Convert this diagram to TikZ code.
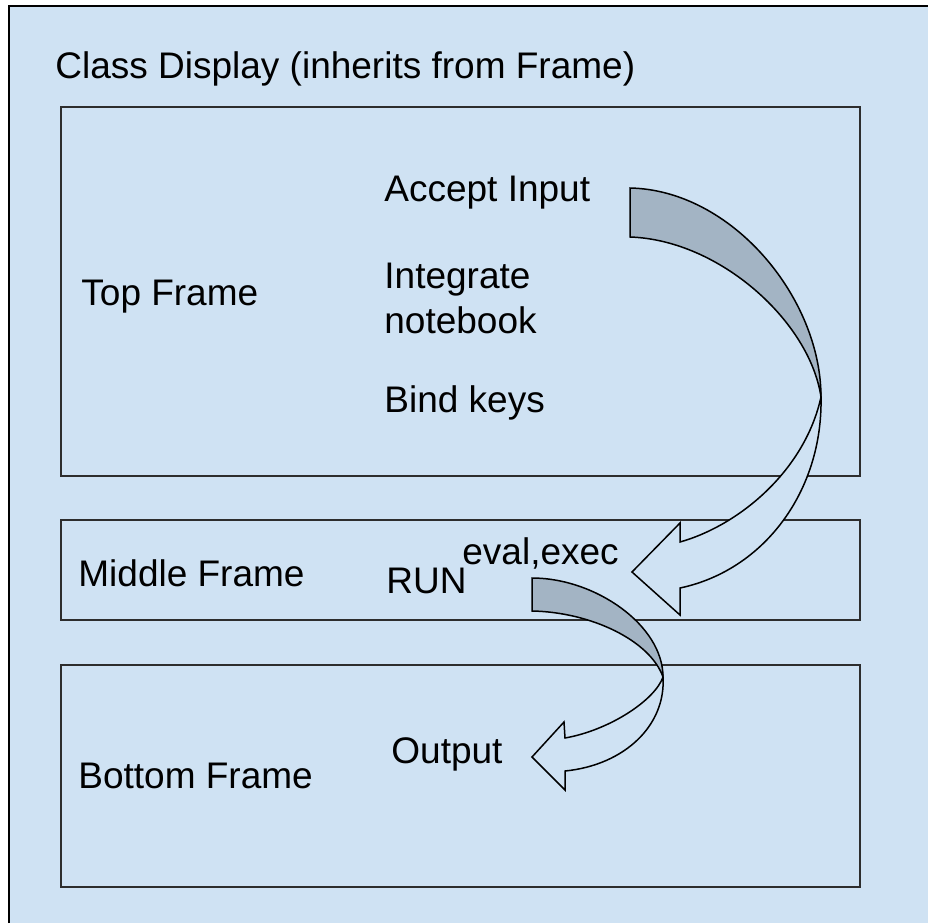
\documentclass[tikz,border=0pt]{standalone}
\usepackage{fontspec}
\setmainfont{Liberation Sans}
\usetikzlibrary{math}
\definecolor{panelblue}{RGB}{207,226,243}
\definecolor{twistgray}{RGB}{163,180,196}
\definecolor{frameline}{RGB}{45,45,45}

\begin{document}
\begin{tikzpicture}[x=0.5pt,y=-0.5pt,
  lbl/.style={anchor=base west,inner sep=0pt,font=\fontsize{18.5}{22}\selectfont},
  framebox/.style={draw=frameline,line width=1pt,fill=panelblue},
  twist/.style={draw=black,line width=0.75pt,line join=miter}]
\tikzmath{
\xl=61; \xr=860;
}
\useasboundingbox (0,0) rectangle (928,923);
\fill[white] (0,0) rectangle (928,923);
\fill[panelblue] (9,6) rectangle (928,923);
\draw[line width=1.2pt] (9,923) -- (9,6) -- (928,6);

% top, middle and bottom frames
\foreach \ya/\yb in {107/476, 520/620, 665/887}{
\draw[framebox] (\xl,\ya) rectangle (\xr,\yb);
}

\node[lbl] (title) at (55,78) {Class Display (inherits from Frame)};

\node[lbl] (topname) at (81,305) {Top Frame};
\node[lbl] (accept) at (384,201) {Accept Input};
\node[lbl] (integrate) at (384,288) {Integrate};
\node[lbl] (notebook) at (384,333) {notebook};
\node[lbl] (bind) at (384,412) {Bind keys};

\node[lbl] (midname) at (78,586) {Middle Frame};
\node[lbl] (run) at (386,593) {RUN};
\node[lbl] (evalexec) at (462,564) {eval,exec};

\node[lbl] (botname) at (78,788) {Bottom Frame};
\node[lbl] (output) at (391,763) {Output};

% twisted arrow from the top frame into the middle one
\coordinate (pinchA) at (821,397);
\filldraw[twist,fill=twistgray] (630,188) .. controls (732,190) and (821,298) .. (pinchA)
  .. controls (810,322) and (720,240) .. (630,237) -- cycle;
\filldraw[twist,fill=panelblue] (pinchA) .. controls (823,490) and (765,570) .. (680,588)
  -- (680,615) -- (632,572) -- (680,523) -- (680,542)
  .. controls (740,525) and (805,470) .. (pinchA) -- cycle;

% and the smaller one down to the bottom frame
\coordinate (pinchB) at (663,677);
\filldraw[twist,fill=twistgray] (532,578) .. controls (595,578) and (663,625) .. (pinchB)
  .. controls (650,640) and (590,612) .. (532,611) -- cycle;
\filldraw[twist,fill=panelblue] (pinchB) .. controls (666,725) and (625,765) .. (565,771)
  -- (565,790) -- (532,757) -- (564,722) -- (565,738)
  .. controls (610,730) and (655,700) .. (pinchB) -- cycle;
\end{tikzpicture}
\end{document}
